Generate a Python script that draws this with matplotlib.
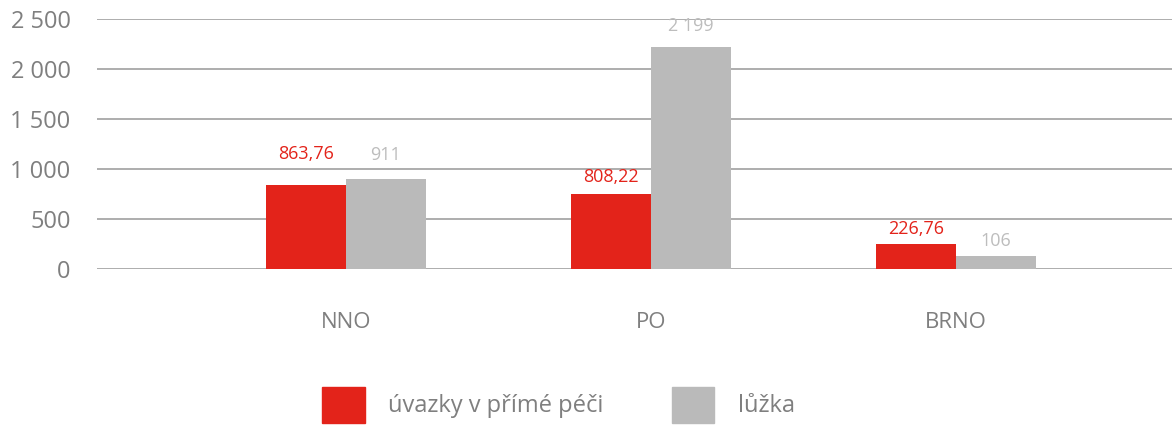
# Staff vs. beds per region, grouped bar chart -> out.png
import numpy as np
import matplotlib
matplotlib.use("Agg")
import matplotlib.pyplot as plt
from matplotlib.patches import Patch

plt.rcParams["font.family"] = ["Open Sans", "DejaVu Sans"]

categories = ["NNO", "PO", "BRNO"]
series_names = ["úvazky v přímé péči", "lůžka"]
# bar heights as drawn in the source chart
uvazky = [843, 753, 253]
luzka = [903, 2223, 133]
# value labels printed above the bars
uvazky_labels = ["863,76", "808,22", "226,76"]
luzka_labels = ["911", "2 199", "106"]
yticks = [0, 500, 1000, 1500, 2000, 2500]
ytick_labels = ["0", "500", "1 000", "1 500", "2 000", "2 500"]

RED = "#e3231a"
GREY = "#bababa"
TEXT = "#7f7f7f"
LABEL_GREY = "#bdbdbd"

fig = plt.figure(figsize=(11.72, 4.29), dpi=100)
ax = fig.add_axes([97 / 1172, 159.7 / 429, 1 - 97 / 1172, 250 / 429])

x = np.arange(len(categories))
width = 0.262
bars1 = ax.bar(x - width / 2, uvazky, width, color=RED, zorder=3)
bars2 = ax.bar(x + width / 2, luzka, width, color=GREY, zorder=3)

ax.set_ylim(0, 2500)
ax.set_xlim(-0.816, 2.708)
ax.set_yticks(yticks)
ax.set_yticklabels(ytick_labels)
ax.set_xticks(x)
ax.set_xticklabels(categories)
ax.tick_params(axis="y", length=0, pad=19, labelsize=17, labelcolor=TEXT)
ax.tick_params(axis="x", length=0, pad=31, labelsize=16, labelcolor=TEXT)
ax.grid(axis="y", color="#a0a0a0", linewidth=1.2, zorder=0)
for s in ax.spines.values():
    s.set_visible(False)

# label offsets (points) above each bar top
off1 = [22, 12, 11]
off2 = [17, 15, 11]
for bar, lab, o in zip(bars1, uvazky_labels, off1):
    ax.annotate(lab, (bar.get_x() + bar.get_width() / 2, bar.get_height()),
                xytext=(0, o), textcoords="offset points", ha="center", va="center",
                color=RED, fontsize=13)
for bar, lab, o in zip(bars2, luzka_labels, off2):
    ax.annotate(lab, (bar.get_x() + bar.get_width() / 2, bar.get_height()),
                xytext=(0, o), textcoords="offset points", ha="center", va="center",
                color=LABEL_GREY, fontsize=13)

handles = [Patch(color=RED, label=series_names[0]), Patch(color=GREY, label=series_names[1])]
leg = fig.legend(handles=handles, loc="center left", bbox_to_anchor=(322 / 1172, 24 / 429),
                 ncol=2, frameon=False, fontsize=17, handlelength=1.8, handleheight=2.0,
                 handletextpad=1.0, columnspacing=2.9, borderpad=0, borderaxespad=0)
for t in leg.get_texts():
    t.set_color(TEXT)

fig.savefig("out.png", dpi=100)
